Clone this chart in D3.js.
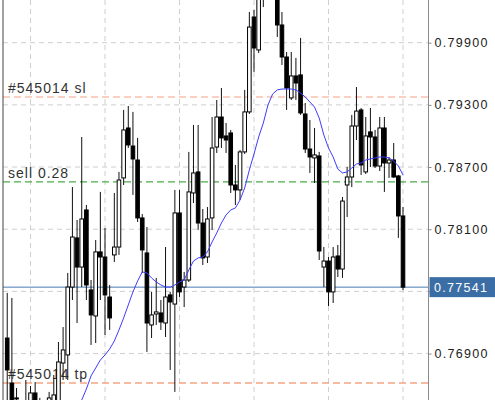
<!DOCTYPE html>
<html><head><meta charset="utf-8">
<script src="https://cdn.jsdelivr.net/npm/d3@7/dist/d3.min.js"></script>
<style>html,body{margin:0;padding:0;background:#fff;overflow:hidden}</style>
</head><body>
<svg id="c" width="495" height="400"></svg>
<script>
// ---- data ----
const opens = [0.77050,0.76616,0.76472,0.76404,0.76356,0.76375,0.76520,0.76433,0.76356,0.76413,
0.76433,0.76404,0.76809,0.76887,0.77542,0.78016,0.77735,0.78286,0.77514,0.77263,
0.77881,0.77832,0.77446,0.77852,0.77928,0.78595,0.79077,0.78903,0.78768,0.78209,
0.77871,0.77176,0.77282,0.77292,0.77195,0.77466,0.77378,0.78257,0.77542,0.77610,
0.78450,0.78653,0.78160,0.77832,0.78209,0.78893,0.79183,0.79000,0.79029,0.78527,
0.78479,0.78846,0.79232,0.80148,0.79830,0.80341,0.80602,0.80891,0.80650,0.80071,
0.79762,0.79367,0.79579,0.79589,0.79212,0.78874,0.78788,0.78807,0.77735,0.77793,
0.77495,0.77842,0.77716,0.78527,0.78604,0.79096,0.79251,0.78653,0.79039,0.78990,
0.78710,0.79077,0.78739,0.78768,0.78614,0.78228];
const highs = [0.77485,0.77437,0.76568,0.76433,0.76645,0.76587,0.76626,0.76472,0.76442,0.76530,
0.76694,0.77012,0.77156,0.77678,0.78507,0.78189,0.78990,0.78334,0.77610,0.77996,
0.78460,0.78112,0.77562,0.78450,0.78653,0.79251,0.79289,0.79232,0.78981,0.78247,
0.78121,0.77495,0.77630,0.77417,0.77928,0.77495,0.78479,0.78479,0.77688,0.78846,
0.79106,0.79106,0.78295,0.78314,0.79183,0.79347,0.79463,0.79125,0.79058,0.78720,
0.78865,0.79444,0.80197,0.80216,0.80505,0.80795,0.81084,0.81132,0.80746,0.80196,
0.79810,0.79810,0.79753,0.79946,0.79318,0.79154,0.79077,0.78846,0.77928,0.77832,
0.77928,0.77948,0.78411,0.78700,0.79203,0.79472,0.79270,0.79183,0.79270,0.79058,
0.79183,0.79183,0.78797,0.78932,0.78624,0.78314];
const lows = [0.76356,0.76308,0.76356,0.76259,0.76337,0.76337,0.76337,0.76308,0.76308,0.76356,
0.76404,0.76375,0.76645,0.76645,0.77417,0.77195,0.77542,0.77417,0.76983,0.77002,
0.77417,0.77080,0.77128,0.77784,0.77852,0.78527,0.78884,0.78431,0.78170,0.77678,
0.76916,0.77050,0.77176,0.77128,0.77060,0.76742,0.76530,0.77446,0.77349,0.77591,
0.78353,0.78093,0.77755,0.77774,0.78093,0.78836,0.78884,0.78836,0.78450,0.78334,
0.78382,0.78826,0.79212,0.79618,0.79801,0.80244,0.80360,0.80409,0.79955,0.79685,
0.79251,0.79347,0.79347,0.79203,0.78836,0.78643,0.78546,0.77803,0.77542,0.77359,
0.77388,0.77639,0.77630,0.78218,0.78507,0.78961,0.78624,0.78633,0.78700,0.78691,
0.78662,0.78460,0.78595,0.78595,0.78016,0.77514];
const closes = [0.76742,0.76375,0.76462,0.76308,0.76433,0.76520,0.76375,0.76356,0.76413,0.76472,
0.76501,0.76819,0.76935,0.77542,0.78025,0.77735,0.78199,0.77562,0.77273,0.77881,
0.77832,0.77466,0.77244,0.77928,0.78575,0.79058,0.78913,0.78778,0.78209,0.77900,
0.77195,0.77273,0.77302,0.77205,0.77446,0.77398,0.78257,0.77495,0.77610,0.78460,
0.78643,0.78160,0.77823,0.78199,0.78884,0.79183,0.78981,0.78961,0.78527,0.78479,
0.78846,0.79232,0.80051,0.79849,0.80409,0.80602,0.80891,0.80698,0.80071,0.79762,
0.79463,0.79579,0.79511,0.79222,0.78874,0.78797,0.78817,0.77890,0.77793,0.77495,
0.77832,0.77716,0.78372,0.78604,0.79096,0.79240,0.78720,0.79000,0.78990,0.78710,
0.79077,0.78739,0.78768,0.78604,0.78228,0.77541];
const maValues = [null,null,null,null,null,null,null,null,null,null,
null,null,null,null,null,0.76356,0.76452,0.76558,0.76684,0.76761,
0.76838,0.76887,0.76944,0.77021,0.77128,0.77244,0.77369,0.77495,0.77600,0.77688,
0.77678,0.77630,0.77591,0.77562,0.77542,0.77542,0.77562,0.77591,0.77610,0.77707,
0.77793,0.77823,0.77832,0.77881,0.77977,0.78064,0.78160,0.78238,0.78286,0.78305,
0.78382,0.78498,0.78672,0.78826,0.78990,0.79125,0.79299,0.79405,0.79444,0.79453,
0.79453,0.79453,0.79444,0.79415,0.79376,0.79328,0.79279,0.79173,0.79009,0.78884,
0.78797,0.78681,0.78643,0.78653,0.78691,0.78729,0.78739,0.78768,0.78778,0.78788,
0.78797,0.78797,0.78788,0.78758,0.78710,0.78624];
const priceTicks = [0.769, 0.775, 0.781, 0.787, 0.793, 0.799];
const gridBars = [5, 21, 37, 53, 69, 85];
const levelNames = ["#545014 sl", "sell 0.28", "#545014 tp"];
const levelPrices = [0.79376, 0.78556, 0.76616];
const currentPrice = 0.77541;

// ---- drawing ----
const W = 495, H = 400;
const levelStyles = ["#f3a285", "#4bad4b", "#f07845"];
const svg = d3.select("#c");
const x = d3.scaleLinear().domain([21, 85]).range([105, 403]);
const y = d3.scaleLinear().domain([0.76452, 0.80312]).range([H, 0]);
const axisX = 428.5, leftX = 3;
const bars = d3.range(opens.length).map(i => ({i, o: opens[i], h: highs[i], l: lows[i], c: closes[i]}));

// grid
const g = svg.append("g");
g.selectAll("line.h").data(priceTicks).join("line")
  .attr("x1", leftX).attr("x2", axisX)
  .attr("y1", d => y(d)).attr("y2", d => y(d))
  .attr("stroke", "#cfcfcf").attr("stroke-dasharray", "5,4");
g.selectAll("line.v").data(gridBars).join("line")
  .attr("x1", d => x(d)).attr("x2", d => x(d))
  .attr("y1", 0).attr("y2", H)
  .attr("stroke", "#cfcfcf").attr("stroke-dasharray", "5,4");

// level lines
levelPrices.forEach((p, k) => {
  svg.append("line").attr("x1", leftX).attr("x2", axisX)
    .attr("y1", y(p)).attr("y2", y(p))
    .attr("stroke", levelStyles[k]).attr("stroke-dasharray", "7,4").attr("stroke-width", 1.2);
  svg.append("text").attr("x", 8).attr("y", y(p) - 4)
    .attr("font-family", "Liberation Sans, Arial, sans-serif").attr("font-size", 14)
    .attr("letter-spacing", 1).attr("fill", "#333").text(levelNames[k]);
});

// current price line
svg.append("line").attr("x1", leftX).attr("x2", axisX)
  .attr("y1", y(currentPrice)).attr("y2", y(currentPrice))
  .attr("stroke", "#4a7db5").attr("stroke-width", 1);

// candles
const bw = 3.6;
const cg = svg.append("g");
cg.selectAll("line.w").data(bars).join("line")
  .attr("x1", d => x(d.i)).attr("x2", d => x(d.i))
  .attr("y1", d => y(d.h)).attr("y2", d => y(d.l))
  .attr("stroke", "#111").attr("stroke-width", 1);
cg.selectAll("rect").data(bars).join("rect")
  .attr("x", d => x(d.i) - bw / 2).attr("width", bw)
  .attr("y", d => y(Math.max(d.o, d.c)))
  .attr("height", d => Math.max(1, Math.abs(y(d.o) - y(d.c))))
  .attr("fill", d => d.c >= d.o ? "#fff" : "#000")
  .attr("stroke", "#000").attr("stroke-width", 1);

// moving average
const line = d3.line().defined(d => d.v != null).x(d => x(d.i)).y(d => y(d.v));
svg.append("path").datum(maValues.map((v, i) => ({i, v})))
  .attr("d", line).attr("fill", "none").attr("stroke", "#3d3dff").attr("stroke-width", 1);

// axes lines
svg.append("line").attr("x1", leftX).attr("x2", leftX).attr("y1", 0).attr("y2", H)
  .attr("stroke", "#444").attr("stroke-width", 1);
svg.append("rect").attr("x", axisX + 0.5).attr("y", 0).attr("width", W - axisX).attr("height", H).attr("fill", "#fff");
const py = y(currentPrice);
const ax = svg.append("g").attr("transform", `translate(${axisX},0)`)
  .call(d3.axisRight(y).tickValues(priceTicks).tickFormat(d3.format(".5f")).tickSize(3).tickPadding(3));
ax.select(".domain").remove();
ax.selectAll(".tick line").attr("stroke", "#888");
ax.selectAll(".tick text").attr("font-family", "Liberation Sans, Arial, sans-serif")
  .attr("font-size", 12.5).attr("letter-spacing", 1.3).attr("fill", "#222");
// the tick label hidden behind the current-price badge is not shown
ax.selectAll(".tick").filter(d => Math.abs(y(d) - py) < 14).select("text").remove();
svg.append("line").attr("x1", axisX).attr("x2", axisX).attr("y1", 0).attr("y2", H)
  .attr("stroke", "#8a8a8a").attr("stroke-width", 1);

// current price label
svg.append("rect").attr("x", axisX + 1).attr("y", py - 10).attr("width", W - axisX).attr("height", 20)
  .attr("fill", "#3c6ea6");
svg.append("text").attr("x", 434).attr("y", py).attr("dy", "0.35em")
  .attr("font-family", "Liberation Sans, Arial, sans-serif").attr("font-size", 12.5)
  .attr("letter-spacing", 1.3).attr("fill", "#fff").text(d3.format(".5f")(currentPrice));
</script>
</body></html>
